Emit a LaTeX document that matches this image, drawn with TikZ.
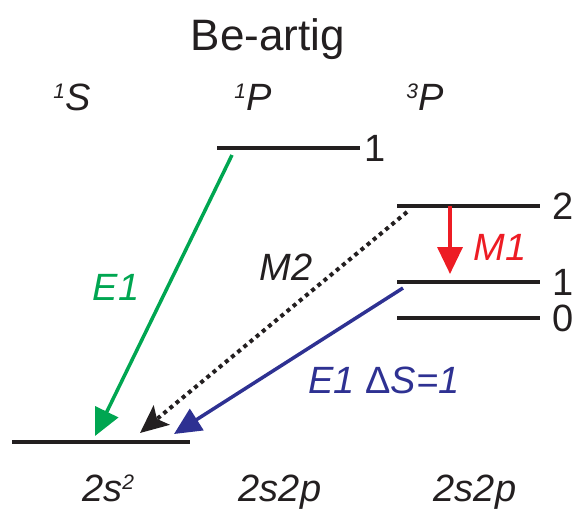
\documentclass[tikz,border=0pt]{standalone}
\usepackage{fontspec}
\setmainfont{Liberation Sans}
\usetikzlibrary{arrows.meta}
\definecolor{cgreen}{RGB}{0,166,81}
\definecolor{cblue}{RGB}{46,49,146}
\definecolor{cred}{RGB}{237,28,36}
\definecolor{cblack}{RGB}{35,31,32}
\newcommand\mysup[1]{\raisebox{12pt}{\fontsize{21}{22}\selectfont #1}}
\tikzset{
  level/.style={line width=4pt, cblack},
  lbl/.style={inner sep=0pt, font=\fontsize{38}{40}\selectfont\itshape},
  num/.style={inner sep=0pt, font=\fontsize{38}{40}\selectfont, cblack},
  trans/.style={line width=3.5pt, -{Triangle[length=27pt,width=25pt]}},
}
\begin{document}
\begin{tikzpicture}[x=1pt,y=-1pt]
\useasboundingbox (0,0) rectangle (575,512);
% title and term labels
\node[inner sep=0pt, anchor=base, font=\fontsize{44}{46}\selectfont, cblack] (title) at (268,50) {Be-artig};
\node[lbl, anchor=base, cblack] (t1S) at (72,110) {\mysup{1}S};
\node[lbl, anchor=base, cblack] (t1P) at (253,110) {\mysup{1}P};
\node[lbl, anchor=base, cblack] (t3P) at (425,110) {\mysup{3}P};
% levels
\coordinate (g0) at (12,442); \coordinate (g1) at (190,442);
\coordinate (p0) at (217,148); \coordinate (p1) at (360,148);
\coordinate (a0) at (397,206); \coordinate (a1) at (540,206);
\coordinate (b0) at (397,282); \coordinate (b1) at (540,282);
\coordinate (c0) at (397,318); \coordinate (c1) at (540,318);
\draw[level] (g0) -- (g1);
\draw[level] (p0) -- (p1);
\draw[level] (a0) -- (a1);
\draw[level] (b0) -- (b1);
\draw[level] (c0) -- (c1);
\node[num, anchor=west] (n1P) at (364,148) {1};
\node[num, anchor=west] (n2) at (552,206) {2};
\node[num, anchor=west] (n1) at (552,282) {1};
\node[num, anchor=west] (n0) at (552,318) {0};
% configuration labels
\node[lbl, anchor=base west, cblack] (cfgA) at (82,501) {2s\mysup{2}};
\node[lbl, anchor=base, cblack] (cfgB) at (280,501) {2s2p};
\node[lbl, anchor=base, cblack] (cfgC) at (475,501) {2s2p};
% transitions
\coordinate (gs) at (232,155); \coordinate (ge) at (95,436);
\coordinate (ks) at (407,212); \coordinate (ke) at (140,433);
\coordinate (bs) at (403,288); \coordinate (be) at (174,434);
\coordinate (rs) at (450,206); \coordinate (re) at (450,274);
\draw[trans, cgreen] (gs) -- (ge);
\draw[line width=4pt, cblack, dash pattern=on 4pt off 4pt, -{Stealth[length=28pt,width=25pt,inset=6pt]}] (ks) -- (ke);
\draw[trans, cblue] (bs) -- (be);
\draw[trans, cred] (rs) -- (re);
\node[lbl, anchor=base, cgreen] (lE1) at (116,300) {E1};
\node[lbl, anchor=base, cblack] (lM2) at (286,280) {M2};
\node[lbl, anchor=base, cred] (lM1) at (500,260) {M1};
\node[lbl, anchor=base, cblue] (lE1b) at (384,393) {E1 {\upshape Δ}S=1};
\end{tikzpicture}
\end{document}
